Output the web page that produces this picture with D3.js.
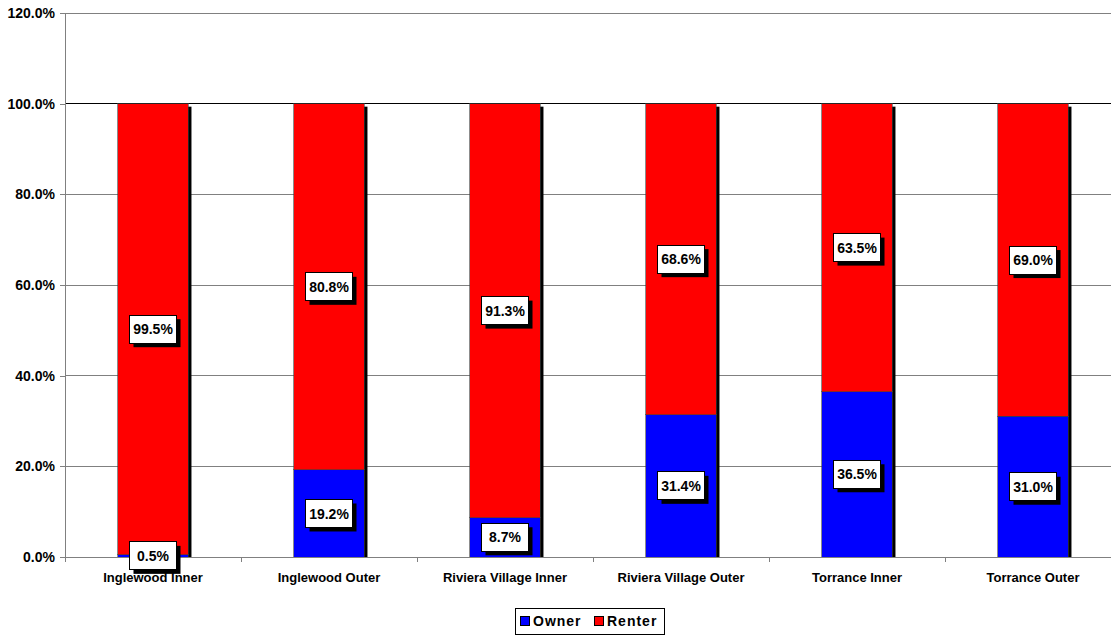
<!DOCTYPE html>
<html>
<head>
<meta charset="utf-8">
<script src="https://cdn.jsdelivr.net/npm/d3@7"></script>
<style>
  html, body { margin: 0; padding: 0; background: #fff; }
  svg { display: block; font-family: "Liberation Sans", Arial, sans-serif; }
</style>
</head>
<body>
<svg id="chart" width="1111" height="637"></svg>
<script>
// Housing tenure share by area
const categories = ["Inglewood Inner", "Inglewood Outer", "Riviera Village Inner", "Riviera Village Outer", "Torrance Inner", "Torrance Outer"];
const ownerValues = [0.5, 19.2, 8.7, 31.4, 36.5, 31.0];
const renterValues = [99.5, 80.8, 91.3, 68.6, 63.5, 69.0];
const seriesNames = ["Owner", "Renter"];
const seriesColors = ["#0000ff", "#ff0000"];
const yTicks = [0, 20, 40, 60, 80, 100, 120];

const FONT = "Liberation Sans, Arial, sans-serif";
const svg = d3.select("#chart");
const plotLeft = 65, plotTop = 13, plotBottom = 557;
const bandWidth = 176;
const plotRight = plotLeft + bandWidth * categories.length;

const gap = 0.597;
const x = d3.scaleBand().domain(categories).range([plotLeft, plotRight]).paddingInner(gap).paddingOuter(gap / 2);
const y = d3.scaleLinear().domain([0, 120]).range([plotBottom, plotTop]);

// gridlines
svg.append("g").selectAll("line").data(yTicks.filter(d => d > 0)).join("line")
  .attr("x1", plotLeft).attr("x2", plotRight)
  .attr("y1", d => y(d)).attr("y2", d => y(d))
  .attr("stroke", d => d === 100 ? "#000" : "#808080")
  .attr("stroke-width", 1)
  .attr("shape-rendering", "crispEdges");

// y axis
const yAxis = svg.append("g").attr("transform", `translate(${plotLeft},0)`)
  .call(d3.axisLeft(y).tickValues(yTicks).tickSize(5).tickPadding(5).tickFormat(d => d3.format(".1f")(d) + "%"))
  .attr("font-family", FONT).attr("font-size", 14).attr("font-weight", "bold");
yAxis.select(".domain").attr("stroke", "#808080");
yAxis.selectAll(".tick line").attr("stroke", "#808080");
yAxis.selectAll("text").attr("fill", "#000");
yAxis.selectAll("path, line").attr("shape-rendering", "crispEdges");

// stacked data
const rows = categories.map((c, i) => ({ cat: c, Owner: ownerValues[i], Renter: renterValues[i] }));
const stack = d3.stack().keys(seriesNames)(rows);

const bars = svg.append("g");
// bar shadows
bars.selectAll("rect.shadow").data(rows).join("rect")
  .attr("class", "shadow")
  .attr("x", d => x(d.cat) + 3)
  .attr("y", d => y(d.Owner + d.Renter) + 3)
  .attr("width", x.bandwidth())
  .attr("height", d => plotBottom - y(d.Owner + d.Renter) - 3)
  .attr("fill", "#000");

stack.forEach((layer, si) => {
  bars.append("g").selectAll("rect").data(layer).join("rect")
    .attr("x", d => x(d.data.cat))
    .attr("y", d => y(d[1]))
    .attr("width", x.bandwidth())
    .attr("height", d => y(d[0]) - y(d[1]))
    .attr("fill", seriesColors[si])
    .attr("stroke", "#404040")
    .attr("stroke-width", 0.6)
    .attr("shape-rendering", "crispEdges");
});

// x axis
const xAxis = svg.append("g").attr("transform", `translate(0,${plotBottom})`);
xAxis.append("line").attr("x1", plotLeft).attr("x2", plotRight).attr("y1", 0).attr("y2", 0)
  .attr("stroke", "#808080").attr("shape-rendering", "crispEdges");
xAxis.selectAll("line.tick").data(d3.range(categories.length + 1)).join("line")
  .attr("class", "tick")
  .attr("x1", i => plotLeft + i * bandWidth).attr("x2", i => plotLeft + i * bandWidth)
  .attr("y1", 0).attr("y2", 5)
  .attr("stroke", "#808080").attr("shape-rendering", "crispEdges");
xAxis.selectAll("text").data(categories).join("text")
  .attr("x", d => x(d) + x.bandwidth() / 2)
  .attr("y", 25)
  .attr("text-anchor", "middle")
  .attr("font-family", FONT)
  .attr("font-size", 13).attr("font-weight", "bold")
  .text(d => d);

// value labels
const labels = [];
stack.forEach(layer => layer.forEach(d => {
  labels.push({ cat: d.data.cat, v: d[1] - d[0], mid: (d[0] + d[1]) / 2 });
}));
const lg = svg.append("g");
const bw = 47, bh = 28;
const lab = lg.selectAll("g").data(labels).join("g")
  .attr("transform", d => `translate(${x(d.cat) + x.bandwidth() / 2},${y(d.mid)})`);
lab.append("rect").attr("x", -bw / 2 + 4).attr("y", -bh / 2 + 4).attr("width", bw).attr("height", bh).attr("fill", "#000");
lab.append("rect").attr("x", -bw / 2).attr("y", -bh / 2).attr("width", bw).attr("height", bh)
  .attr("fill", "#fff").attr("stroke", "#000").attr("stroke-width", 1).attr("shape-rendering", "crispEdges");
lab.append("text").attr("text-anchor", "middle").attr("dy", "0.36em")
  .attr("font-family", FONT)
  .attr("font-size", 14).attr("font-weight", "bold")
  .text(d => d3.format(".1f")(d.v) + "%");

// legend
const leg = svg.append("g").attr("transform", "translate(515,608)");
leg.append("rect").attr("width", 149).attr("height", 26).attr("fill", "#fff").attr("stroke", "#000")
  .attr("shape-rendering", "crispEdges");
const items = [{ n: seriesNames[0], c: seriesColors[0], x: 5 }, { n: seriesNames[1], c: seriesColors[1], x: 79 }];
items.forEach(it => {
  leg.append("rect").attr("x", it.x).attr("y", 8).attr("width", 9).attr("height", 9)
    .attr("fill", it.c).attr("stroke", "#000").attr("shape-rendering", "crispEdges");
  leg.append("text").attr("x", it.x + 13).attr("y", 18).attr("font-family", FONT)
    .attr("font-size", 14).attr("font-weight", "bold")
    .attr("letter-spacing", "1").text(it.n);
});
</script>
</body>
</html>
